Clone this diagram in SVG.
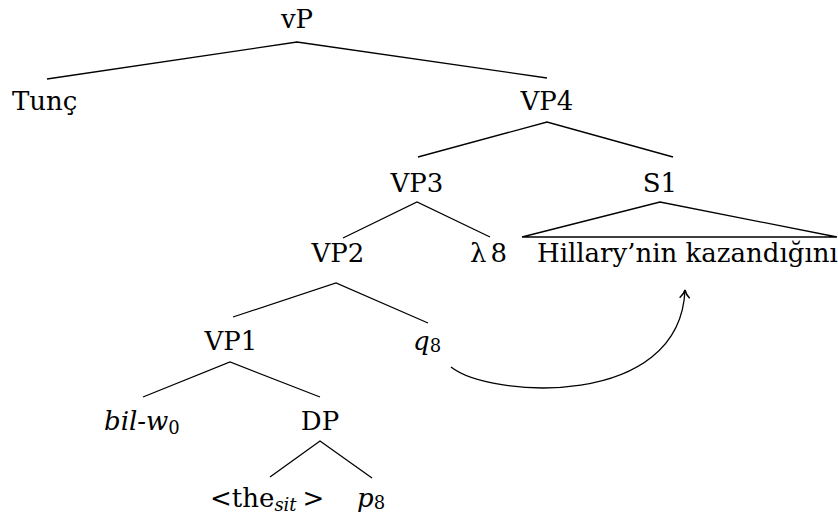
<svg xmlns="http://www.w3.org/2000/svg" width="838" height="519" viewBox="0 0 838 519">
<defs>
<style>
text{font-family:"DejaVu Serif","Liberation Serif",serif;font-size:26px;fill:#000}
.c{text-anchor:middle}
.i{font-style:italic}
.sub{font-size:18px}
.e{stroke:#000;stroke-width:1.3;fill:none}
</style>
<marker id="ah" viewBox="0 0 12 12" refX="10" refY="6" markerWidth="12" markerHeight="12" markerUnits="userSpaceOnUse" orient="auto">
<path d="M2 1 Q6 5 10 6 Q6 7 2 11" fill="none" stroke="#000" stroke-width="1.5"/>
</marker>
</defs>
<rect width="838" height="519" fill="#fff"/>
<g id="edges">
<path class="e" d="M47 79 L297 42 L547 78"/>
<path class="e" d="M418 157 L547 122 L673 157"/>
<path class="e" d="M343 238 L417 202 L490 237"/>
<path class="e" d="M522 237 L660 202 L837 237 Z"/>
<path class="e" d="M233 317 L336 283 L428 323"/>
<path class="e" d="M143 397 L230 362 L320 397"/>
<path class="e" d="M270 477 L320 441 L372 478"/>
<path class="e" d="M451 367 C490 398 680 410 685 290" marker-end="url(#ah)"/>
</g>
<g id="vP"><text class="c" x="297" y="28">vP</text></g>
<g id="Tunc"><text x="12" y="110">Tunç</text></g>
<g id="VP4"><text class="c" x="547" y="110">VP4</text></g>
<g id="VP3"><text class="c" x="417" y="192">VP3</text></g>
<g id="S1"><text class="c" x="660" y="192">S1</text></g>
<g id="VP2"><text class="c" x="338" y="262">VP2</text></g>
<g id="lambda8"><text x="470" y="262">λ<tspan dx="4">8</tspan></text></g>
<g id="Hillary"><text x="537" y="262">Hillary’nin kazandığını</text></g>
<g id="VP1"><text class="c" x="231" y="350">VP1</text></g>
<g id="q8"><text x="413" y="350"><tspan class="i">q</tspan><tspan class="sub" dy="2">8</tspan></text></g>
<g id="bilw0"><text x="104" y="430"><tspan class="i">bil-w</tspan><tspan class="sub" dy="4">0</tspan></text></g>
<g id="DP"><text class="c" x="320" y="430">DP</text></g>
<g id="the"><text x="210" y="507">&lt;the<tspan class="i sub" dy="4">sit</tspan><tspan dy="-4" dx="6">&gt;</tspan></text></g>
<g id="p8"><text x="357" y="507"><tspan class="i">p</tspan><tspan class="sub" dy="2">8</tspan></text></g>
</svg>
